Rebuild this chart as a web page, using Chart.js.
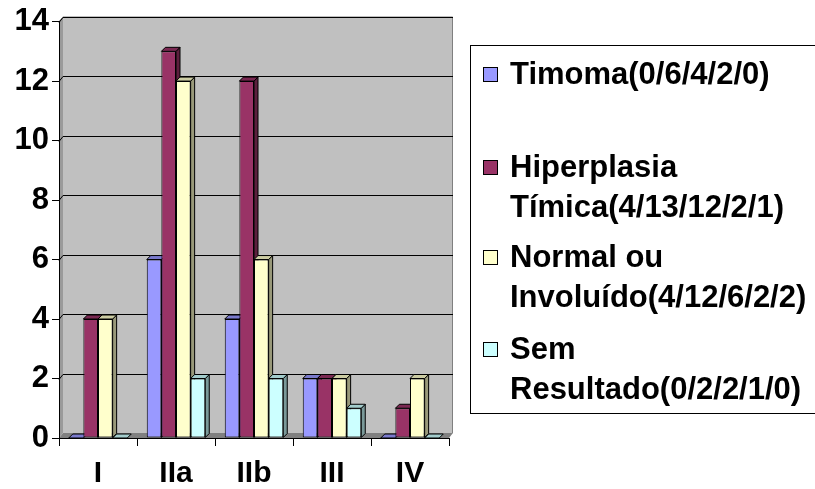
<!DOCTYPE html>
<html>
<head>
<meta charset="utf-8">
<script src="https://cdn.jsdelivr.net/npm/chart.js@4.4.1/dist/chart.umd.min.js"></script>
<style>
  html, body { margin: 0; padding: 0; background: #ffffff; }
  #wrap { width: 815px; height: 489px; position: relative; }
</style>
</head>
<body>
<div id="wrap"><canvas id="c" width="815" height="489"></canvas></div>
<script>
// Stages on the x axis
const categories = ['I', 'IIa', 'IIb', 'III', 'IV'];

// Counts per stage for each thymus finding
const timoma = [0, 6, 4, 2, 0];
const hiperplasia = [4, 13, 12, 2, 1];
const normalInvoluido = [4, 12, 6, 2, 2];
const semResultado = [0, 2, 2, 1, 0];

// Legend text (each entry wraps onto the listed lines)
const legendLines = [
  ['Timoma(0/6/4/2/0)'],
  ['Hiperplasia', 'Tímica(4/13/12/2/1)'],
  ['Normal ou', 'Involuído(4/12/6/2/2)'],
  ['Sem', 'Resultado(0/2/2/1/0)']
];

// Value axis range
const yMin = 0;
const yMax = 14;
const yStep = 2;

const FONT = '"Liberation Sans", Arial, sans-serif';
const frontColors = ['#9999FF', '#993366', '#FFFFCC', '#CCFFFF'];
const topColors   = ['#7a7acc', '#7a2952', '#cccca3', '#a3cccc'];
const sideColors  = ['#5c5c99', '#5c1f3d', '#99997a', '#7a9999'];
const DEPTH = 4;      // bar depth offset
const WALL_DX = 4;    // back wall offset
const WALL_DY = 5;

// Back wall, side wall, floor and gridlines of the 3D plot box
const wallPlugin = {
  id: 'wall',
  beforeDraw(chart) {
    const ctx = chart.ctx;
    const a = chart.chartArea;
    const ys = chart.scales.y;
    ctx.save();
    // back wall
    ctx.fillStyle = '#C0C0C0';
    ctx.fillRect(a.left + WALL_DX, a.top - WALL_DY, a.right - a.left, a.bottom - a.top);
    // left side wall
    ctx.fillStyle = '#9a9a9a';
    ctx.beginPath();
    ctx.moveTo(a.left, a.top);
    ctx.lineTo(a.left + WALL_DX, a.top - WALL_DY);
    ctx.lineTo(a.left + WALL_DX, a.bottom - WALL_DY);
    ctx.lineTo(a.left, a.bottom);
    ctx.closePath();
    ctx.fill();
    // floor
    ctx.fillStyle = '#808080';
    ctx.beginPath();
    ctx.moveTo(a.left, a.bottom);
    ctx.lineTo(a.left + WALL_DX, a.bottom - WALL_DY);
    ctx.lineTo(a.right + WALL_DX, a.bottom - WALL_DY);
    ctx.lineTo(a.right, a.bottom);
    ctx.closePath();
    ctx.fill();
    // wall outline (top and right edges)
    ctx.strokeStyle = '#808080';
    ctx.lineWidth = 1;
    ctx.beginPath();
    ctx.moveTo(a.left, a.top);
    ctx.lineTo(a.left + WALL_DX, a.top - WALL_DY + 0.5);
    ctx.lineTo(a.right + WALL_DX - 0.5, a.top - WALL_DY + 0.5);
    ctx.lineTo(a.right + WALL_DX - 0.5, a.bottom - WALL_DY);
    ctx.stroke();
    // gridlines on the side and back wall
    ctx.strokeStyle = '#000000';
    for (let v = yMin + yStep; v <= yMax; v += yStep) {
      const py = Math.round(ys.getPixelForValue(v)) + 0.5;
      ctx.beginPath();
      ctx.moveTo(a.left, py);
      ctx.lineTo(a.left + WALL_DX, py - WALL_DY);
      ctx.lineTo(a.right + WALL_DX, py - WALL_DY);
      ctx.stroke();
    }
    ctx.restore();
  }
};

// Top and right faces of each bar; the front faces are drawn by Chart.js on top
const bar3dPlugin = {
  id: 'bar3d',
  beforeDatasetsDraw(chart) {
    const ctx = chart.ctx;
    ctx.save();
    ctx.lineWidth = 1;
    ctx.strokeStyle = '#000000';
    ctx.lineJoin = 'miter';
    const n = chart.data.labels.length;
    for (let i = 0; i < n; i++) {
      chart.data.datasets.forEach((ds, d) => {
        const el = chart.getDatasetMeta(d).data[i];
        const x0 = el.x - el.width / 2;
        const x1 = el.x + el.width / 2;
        const yt = el.y;
        const yb = el.base;
        // right side face
        if (yb - yt > 0.5) {
          ctx.fillStyle = sideColors[d];
          ctx.beginPath();
          ctx.moveTo(x1, yt);
          ctx.lineTo(x1 + DEPTH, yt - DEPTH);
          ctx.lineTo(x1 + DEPTH, yb - DEPTH);
          ctx.lineTo(x1, yb);
          ctx.closePath();
          ctx.fill();
          ctx.stroke();
        }
        // top face
        ctx.fillStyle = topColors[d];
        ctx.beginPath();
        ctx.moveTo(x0, yt);
        ctx.lineTo(x0 + DEPTH, yt - DEPTH);
        ctx.lineTo(x1 + DEPTH, yt - DEPTH);
        ctx.lineTo(x1, yt);
        ctx.closePath();
        ctx.fill();
        ctx.stroke();
      });
    }
    ctx.restore();
  }
};

// Boxed legend on the right (its right edge runs past the canvas)
const legendPlugin = {
  id: 'boxLegend',
  afterDraw(chart) {
    const ctx = chart.ctx;
    ctx.save();
    ctx.fillStyle = '#ffffff';
    ctx.fillRect(470, 45, 360, 368);
    ctx.strokeStyle = '#000000';
    ctx.lineWidth = 1;
    ctx.strokeRect(470.5, 45.5, 360, 368);
    const lineY = [[74], [167, 207], [257, 297], [349, 389]];
    ctx.font = 'bold 31px ' + FONT;
    ctx.textBaseline = 'middle';
    ctx.textAlign = 'left';
    chart.data.datasets.forEach((ds, d) => {
      const ys = lineY[d];
      ctx.fillStyle = frontColors[d];
      ctx.fillRect(483, ys[0] - 7, 14, 14);
      ctx.strokeRect(483.5, ys[0] - 6.5, 14, 14);
      ctx.fillStyle = '#000000';
      ds.legendText.forEach((t, k) => ctx.fillText(t, 510, ys[k] + 1));
    });
    ctx.restore();
  }
};

function makeSet(values, d) {
  return {
    label: legendLines[d].join(' '),
    legendText: legendLines[d],
    data: values,
    backgroundColor: frontColors[d],
    borderColor: '#000000',
    borderWidth: 1,
    borderSkipped: false,
    categoryPercentage: 0.75,
    barPercentage: 1.0
  };
}

new Chart(document.getElementById('c'), {
  type: 'bar',
  data: {
    labels: categories,
    datasets: [
      makeSet(timoma, 0),
      makeSet(hiperplasia, 1),
      makeSet(normalInvoluido, 2),
      makeSet(semResultado, 3)
    ]
  },
  options: {
    responsive: false,
    animation: false,
    devicePixelRatio: 1,
    layout: { padding: { top: 21, right: 366, left: 0, bottom: 0 } },
    plugins: { legend: { display: false }, tooltip: { enabled: false } },
    scales: {
      x: {
        grid: { drawOnChartArea: false, drawTicks: true, tickLength: 8, color: '#000000', offset: true },
        border: { display: true, color: '#000000', width: 1 },
        ticks: { color: '#000000', font: { family: FONT, size: 30, weight: 'bold' }, padding: 10, maxRotation: 0 },
        afterFit(scale) { scale.height = 51; }
      },
      y: {
        min: yMin,
        max: yMax,
        grid: { drawOnChartArea: false, drawTicks: true, tickLength: 7, color: '#000000' },
        border: { display: true, color: '#000000', width: 1 },
        ticks: { stepSize: yStep, color: '#000000', font: { family: FONT, size: 31, weight: 'bold' }, padding: 3 },
        afterFit(scale) { scale.width = 59; }
      }
    }
  },
  plugins: [wallPlugin, bar3dPlugin, legendPlugin]
});
</script>
</body>
</html>
